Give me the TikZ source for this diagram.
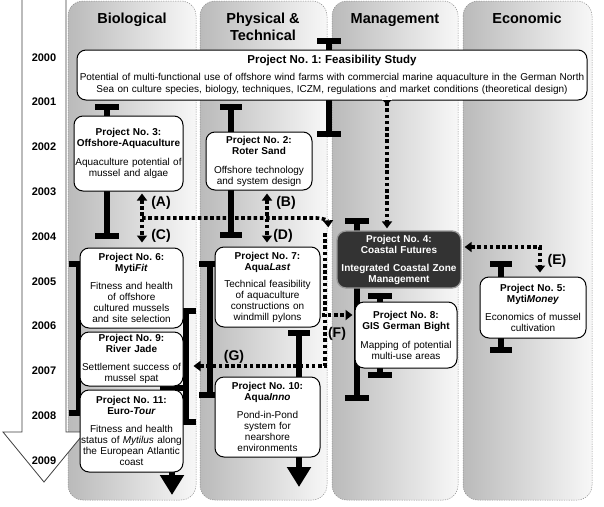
\documentclass[tikz,border=0pt]{standalone}
\usepackage{fontspec}
\setmainfont{Liberation Sans}
\usetikzlibrary{arrows.meta,calc}
\newcommand\projbar[4]{%
  \draw[barl] (#1,#2) -- (#1,#3);
  \draw[barl] (#1-#4,#2) -- (#1+#4,#2);
  \draw[barl] (#1-#4,#3) -- (#1+#4,#3);}
\begin{document}
\frenchspacing
\begin{tikzpicture}[x=1pt,y=-1pt,
  lane/.style={draw=black!45, line width=0.5pt, dash pattern=on 1.2pt off 1.2pt, rounded corners=15pt},
  hdr/.style={font=\fontsize{14.5}{17}\selectfont\bfseries, align=center, inner sep=0pt},
  yr/.style={font=\fontsize{11}{13}\selectfont\bfseries, inner sep=0pt},
  lbl/.style={font=\fontsize{14}{16}\selectfont\bfseries, inner sep=0pt},
  pbox/.style={draw=black, line width=1pt, rounded corners=9pt, fill=white, align=center,
    inner xsep=1pt, inner ysep=0pt, font=\fontsize{10}{11}\selectfont},
  dc/.style={line width=3.6pt, dash pattern=on 3.6pt off 2.6pt},
  barl/.style={line width=5.5pt},
  >={Triangle[length=7pt,width=10pt]}
]
\useasboundingbox (0,0) rectangle (604,506);
\fill[white] (0,0) rectangle (604,506);

% lanes
\foreach \a/\b in {68/196, 200/327, 332/458, 463/592}{
  \shade[left color=black!27, right color=black!3, rounded corners=15pt] (\a,1) rectangle (\b,500);
  \draw[lane] (\a,1) rectangle (\b,500);
}

% timeline arrow
\draw[fill=white, draw=black!75, line width=0.8pt]
  (22,-10) -- (22,432) -- (3,432) -- (44,482) -- (85,432) -- (66,432) -- (66,-10);

% headers
\node[hdr, anchor=base] (hbio) at (132,23) {Biological};
\node[hdr] (hphy) at (263,26.5) {Physical \&\\Technical};
\node[hdr, anchor=base] (hman) at (395,23) {Management};
\node[hdr, anchor=base] (heco) at (527,23) {Economic};

% years
\foreach \yy [count=\i from 0] in {2000,...,2009}
  \node[yr, anchor=base] (y\yy) at (44,{61+44.8*\i}) {\yy};

% project duration bars
\projbar{329}{41}{134}{12}
\projbar{107}{107}{236}{12}
\projbar{231}{107}{235}{11}
\projbar{357}{221}{398}{12}
\projbar{380}{296}{375}{12}
\projbar{501}{264}{350}{11}
\projbar{78.5}{264}{413}{10}
\projbar{186}{311}{422}{10}
\projbar{210}{264}{395}{11}
\draw[barl] (288,333) -- (310,333);
\draw[barl, -{Triangle[length=20pt,width=23pt]}] (299,333) -- (299,487);
\draw[barl] (160,388) -- (184,388);
\draw[barl, -{Triangle[length=20pt,width=23pt]}] (172,388) -- (172,495);

% dotted connectors (drawn before boxes)
\coordinate (cA) at (142,218);
\coordinate (cB) at (267,218);
\coordinate (dx) at (387,0);
\coordinate (fy) at (0,315);
\coordinate (gy) at (325,366);
\coordinate (ec) at (540,247);
\coordinate (cF) at (325,233);

% boxes
\node[pbox, text width=508pt, minimum height=50pt, font=\fontsize{10}{12}\selectfont] (p1) at (332,75)
  {{\fontsize{11.5}{12}\selectfont\bfseries Project No. 1: Feasibility Study}\\[5pt]
   Potential of multi-functional use of offshore wind farms with commercial marine aquaculture in the German North\\
   Sea on culture species, biology, techniques, ICZM, regulations and market conditions (theoretical design)};
\node[pbox, text width=107pt, minimum height=75pt] (p3) at (128.5,153.5)
  {\textbf{Project No. 3:}\\\textbf{Offshore-Aquaculture}\\[8pt]Aquaculture potential of\\mussel and algae};
\node[pbox, text width=104pt, minimum height=58pt] (p2) at (259,161)
  {\textbf{Project No. 2:}\\\textbf{Roter Sand}\\[8pt]Offshore technology\\and system design};
\node[pbox, text width=122pt, minimum height=57pt, fill=black!80, draw=black!40, line width=1.3pt, text=white] (p4) at (399,259.5)
  {\textbf{Project No. 4:}\\\textbf{Coastal Futures}\\[7pt]\textbf{Integrated Coastal Zone}\\\textbf{Management}};
\node[pbox, text width=104pt, minimum height=61pt] (p5) at (533,307.5)
  {\textbf{Project No. 5:}\\\textbf{Myti\textit{Money}}\\[7pt]Economics of mussel\\cultivation};
\node[pbox, text width=101pt, minimum height=80pt] (p6) at (131.5,288)
  {\textbf{Project No. 6:}\\\textbf{Myti\textit{Fit}}\\[7pt]Fitness and health\\of offshore\\cultured mussels\\and site selection};
\node[pbox, text width=103pt, minimum height=80pt] (p7) at (267.5,287)
  {\textbf{Project No. 7:}\\\textbf{Aqua\textit{Last}}\\[6pt]Technical feasibility\\of aquaculture\\constructions on\\windmill pylons};
\node[pbox, text width=100pt, minimum height=66pt] (p8) at (406,335)
  {\textbf{Project No. 8:}\\\textbf{GIS German Bight}\\[8pt]Mapping of potential\\multi-use areas};
\node[pbox, text width=101pt, minimum height=54pt] (p9) at (131.5,359)
  {\textbf{Project No. 9:}\\\textbf{River Jade}\\[7pt]Settlement success of\\mussel spat};
\node[pbox, text width=103pt, minimum height=80pt] (p10) at (267.5,417)
  {\textbf{Project No. 10:}\\\textbf{Aqua\textit{Inno}}\\[7pt]Pond-in-Pond\\system for\\nearshore\\environments};
\node[pbox, text width=101pt, minimum height=82pt] (p11) at (131.5,431)
  {\textbf{Project No. 11:}\\\textbf{Euro-\textit{Tour}}\\[7pt]Fitness and health\\status of \textit{Mytilus} along\\the European Atlantic\\coast};

% dotted connectors
\draw[dc, {Circle[length=7pt]}->, shorten <=-3.5pt, shorten >=2pt] (p1.south -| dx) -- (p4.north -| dx);
\fill[white] ($(p1.south -| dx)+(-5,-4)$) rectangle ($(p1.south -| dx)+(5,-0.6)$);
\draw[dc, <->, shorten <=2pt, shorten >=5pt] (p3.south -| cA) -- (p6.north -| cA);
\draw[dc, <->, shorten <=3pt, shorten >=4pt] (p2.south -| cB) -- (p7.north -| cB);
\draw[dc, ->] (cA) -- (316,218) .. controls (324,218) and (328,221) .. ($(p4.north west)+(-8,-3)$);
\draw[dc, ->, shorten >=10pt] (cF) -- (gy) -- (p9.east |- gy);
\draw[dc, ->, shorten <=1pt, shorten >=2pt] (p7.east |- fy) -- (p8.west |- fy);
\draw[dc, <->, shorten <=3pt, shorten >=4pt] (p4.east |- ec) -- (ec) -- (ec |- p5.north);

% labels
\node[lbl] (lA) at (161,203) {(A)};
\node[lbl] (lC) at (161,236) {(C)};
\node[lbl] (lB) at (286,203) {(B)};
\node[lbl] (lD) at (283,236) {(D)};
\node[lbl] (lE) at (557,261) {(E)};
\node[lbl] (lF) at (337,334) {(F)};
\node[lbl] (lG) at (234,357) {(G)};
\end{tikzpicture}
\end{document}
